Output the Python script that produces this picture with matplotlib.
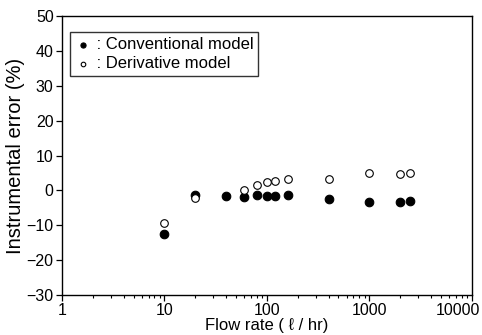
import matplotlib
matplotlib.use("Agg")
import matplotlib.pyplot as plt
import matplotlib.transforms as mtransforms
from matplotlib.ticker import FixedLocator, LogLocator, NullFormatter

plt.rcParams['font.family'] = ['Liberation Sans', 'DejaVu Sans']

flow_conv = [10, 20, 40, 60, 80, 100, 120, 160, 400, 1000, 2000, 2500]
err_conv = [-12.4, -1.2, -1.7, -1.9, -1.4, -1.6, -1.6, -1.2, -2.3, -3.4, -3.2, -3.0]

flow_deriv = [10, 20, 60, 80, 100, 120, 160, 400, 1000, 2000, 2500]
err_deriv = [-9.3, -2.2, 0.2, 1.7, 2.4, 2.7, 3.3, 3.2, 5.1, 4.8, 4.9]

x_ticks = [1, 10, 100, 1000, 10000]
x_ticklabels = ['1', '10', '100', '1000', '10000']
y_ticks = [-30, -20, -10, 0, 10, 20, 30, 40, 50]

fig = plt.figure(figsize=(4.82, 3.35), dpi=100)
ax = fig.add_axes([0.1286, 0.119, 0.85, 0.833])

ax.scatter(flow_conv, err_conv, s=38, facecolor='black', edgecolor='black',
           linewidths=0.8, zorder=3, label=' : Conventional model')
ax.scatter(flow_deriv, err_deriv, s=30, facecolor='white', edgecolor='black',
           linewidths=0.8, zorder=3, label=' : Derivative model')

ax.set_xscale('log')
ax.set_xlim(1, 10000)
ax.set_ylim(-30, 50)
ax.xaxis.set_major_locator(FixedLocator(x_ticks))
ax.set_xticklabels(x_ticklabels)
ax.xaxis.set_minor_locator(LogLocator(base=10, subs=range(2, 10)))
ax.xaxis.set_minor_formatter(NullFormatter())
ax.set_yticks(y_ticks)

ax.tick_params(axis='both', which='major', direction='out', length=4, width=0.9,
               labelsize=11.5, pad=2)
ax.tick_params(axis='x', which='minor', direction='out', length=2.5, width=0.8)
for sp in ax.spines.values():
    sp.set_linewidth(1.0)

# shift the last x tick label left so it stays inside the figure
last = ax.get_xticklabels()[-1]
last.set_transform(last.get_transform() +
                   mtransforms.ScaledTranslation(-14 / 100, 0, fig.dpi_scale_trans))

ax.set_xlabel('Flow rate ( ℓ / hr)', fontsize=12, labelpad=0)
ax.set_ylabel('Instrumental error (%)', fontsize=14.5, labelpad=1)

leg = ax.legend(loc='upper left', bbox_to_anchor=(0.0195, 0.943), frameon=True,
                fancybox=False, edgecolor='black', fontsize=12, markerscale=0.6,
                handletextpad=0.0, handlelength=1.0, borderpad=0.3,
                labelspacing=0.25, borderaxespad=0.0)
leg.get_frame().set_linewidth(1.0)

fig.savefig('out.png', dpi=100)
